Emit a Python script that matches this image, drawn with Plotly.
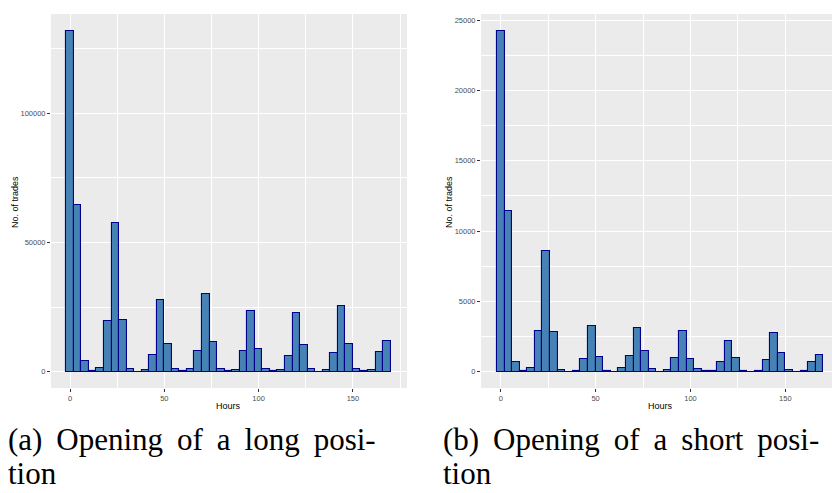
import plotly.graph_objects as go
from plotly.subplots import make_subplots

hours = list(range(0, 169, 4))

long_counts = [131900, 64500, 4100, 100, 1550, 19500, 57700, 20100, 1160, 50,
               500, 6600, 27700, 10800, 900, 100, 900, 8000, 29900, 11600,
               1000, 100, 500, 8000, 23400, 8800, 900, 100, 500, 6200,
               22600, 10200, 1160, 50, 500, 7100, 25300, 10600, 900, 100,
               500, 7500, 11700]

short_counts = [24220, 11450, 660, 20, 240, 2900, 8580, 2800, 140, 10,
                80, 880, 3250, 1070, 60, 10, 240, 1090, 3100, 1450,
                170, 10, 100, 970, 2870, 880, 170, 20, 50, 660,
                2160, 950, 70, 10, 70, 850, 2750, 1300, 100, 10,
                60, 690, 1160]

x_ticks = [0, 50, 100, 150]
long_yticks = [0, 50000, 100000]
short_yticks = [0, 5000, 10000, 15000, 20000, 25000]

W, H = 832, 493
fig = make_subplots(rows=1, cols=2)

bar_style = dict(marker=dict(color="#4682B4", line=dict(color="#00008B", width=1.1)),
                 width=4, showlegend=False, hoverinfo="x+y")
fig.add_trace(go.Bar(x=hours, y=long_counts, **bar_style), row=1, col=1)
fig.add_trace(go.Bar(x=hours, y=short_counts, **bar_style), row=1, col=2)

ydom = [(H - 388) / H, (H - 14) / H]
axis_common = dict(showline=False, zeroline=False, gridcolor="white", gridwidth=1.4,
                   ticks="outside", ticklen=3, tickcolor="#333333", tickwidth=1,
                   tickfont=dict(family="Liberation Sans, Arial", size=7.5, color="#4D4D4D"),
                   minor=dict(showgrid=True, gridcolor="white", gridwidth=0.7, ticks=""))

fig.update_xaxes(**axis_common)
fig.update_yaxes(**axis_common)

fig.update_layout(
    xaxis=dict(domain=[51 / W, 407 / W], range=[-10.1, 178.7],
               tickmode="array", tickvals=x_ticks, minor_dtick=25, minor_tick0=25),
    yaxis=dict(domain=ydom, range=[-6300, 138400], tickmode="array",
               tickvals=long_yticks, ticktext=[str(v) for v in long_yticks],
               minor_dtick=25000, minor_tick0=25000),
    xaxis2=dict(domain=[481 / W, 1.0], range=[-10.4, 174.6],
                tickmode="array", tickvals=x_ticks, minor_dtick=25, minor_tick0=25),
    yaxis2=dict(domain=ydom, range=[-1160, 25430], tickmode="array",
                tickvals=short_yticks, ticktext=[str(v) for v in short_yticks],
                minor_dtick=2500, minor_tick0=2500),
    plot_bgcolor="#EBEBEB",
    paper_bgcolor="white",
    bargap=0,
    width=W, height=H,
    margin=dict(l=0, r=0, t=0, b=0),
)

def px_ann(text, x, y, size, family, xanchor="center", yanchor="middle", angle=0, color="black"):
    fig.add_annotation(text=text, x=x / W, y=1 - y / H, xref="paper", yref="paper",
                       showarrow=False, xanchor=xanchor, yanchor=yanchor, textangle=angle,
                       font=dict(family=family, size=size, color=color))

sans = "Liberation Sans, Arial"
serif = "Liberation Serif, Times New Roman, serif"
px_ann("Hours", 228, 406, 9, sans)
px_ann("Hours", 660, 406, 9, sans)
px_ann("No. of trades", 15, 202, 9, sans, angle=-90)
px_ann("No. of trades", 449, 202, 9, sans, angle=-90)

sp = " \u2009"
cap_a = sp.join(["(a)", "Opening", "of", "a", "long", "posi-"])
cap_b = sp.join(["(b)", "Opening", "of", "a", "short", "posi-"])
px_ann(cap_a, 6, 439, 31, serif, xanchor="left")
px_ann("tion", 6, 493, 31, serif, xanchor="left", yanchor="bottom")
px_ann(cap_b, 441, 439, 31, serif, xanchor="left")
px_ann("tion", 441, 493, 31, serif, xanchor="left", yanchor="bottom")

fig.write_html("out.html")
